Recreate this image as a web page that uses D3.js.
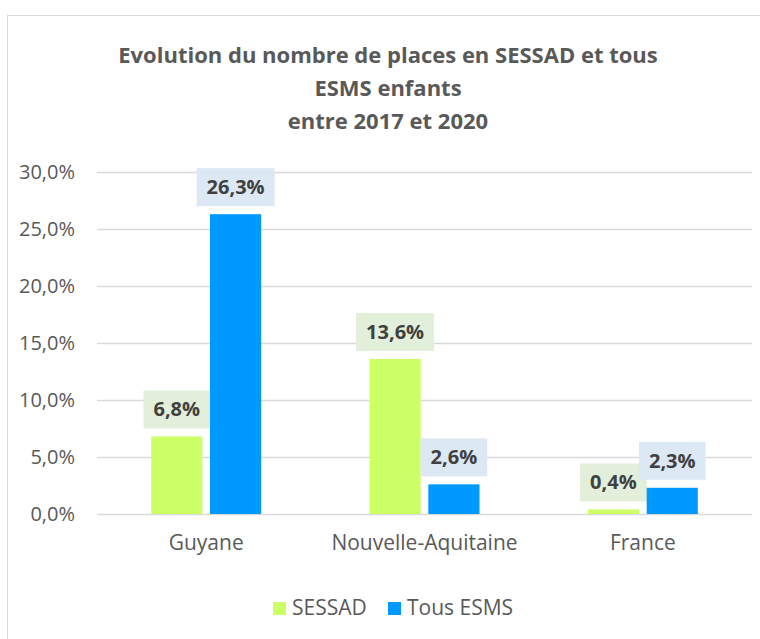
<!DOCTYPE html>
<html>
<head>
<meta charset="utf-8">
<script src="https://cdn.jsdelivr.net/npm/d3@7"></script>
<style>
  body { margin: 0; background: #fff; }
  text { font-family: "Open Sans", sans-serif; }
</style>
</head>
<body>
<script>
const width = 760, height = 639
const margin = {top: 172, right: 8, bottom: 125, left: 97}

const categories = ["Guyane", "Nouvelle-Aquitaine", "France"]
const seriesNames = ["SESSAD", "Tous ESMS"]
const sessad = [6.8, 13.6, 0.4]
const tousEsms = [26.3, 2.6, 2.3]
const yTicks = [0, 5, 10, 15, 20, 25, 30]
const titleLines = ["Evolution du nombre de places en SESSAD et tous", "ESMS enfants", "entre 2017 et 2020"]

const colors = {"SESSAD": "#ccff66", "Tous ESMS": "#0099ff"}
const labelBg = {"SESSAD": "#e2efda", "Tous ESMS": "#dde8f5"}

const data = categories.map((c, i) => ({cat: c, "SESSAD": sessad[i], "Tous ESMS": tousEsms[i]}))

const fmt = v => v.toFixed(1).replace(".", ",") + "%"

const svg = d3.select("body").append("svg")
    .attr("width", width)
    .attr("height", height)

// outer chart border
svg.append("rect")
    .attr("x", 7.5).attr("y", 15.5)
    .attr("width", 760).attr("height", 640)
    .attr("fill", "#fff")
    .attr("stroke", "#d9d9d9")

// title
svg.append("g")
  .selectAll("text")
  .data(titleLines)
  .join("text")
    .attr("x", 388)
    .attr("y", (d, i) => 63 + i * 33)
    .attr("text-anchor", "middle")
    .attr("font-size", 22)
    .attr("font-weight", "bold")
    .attr("fill", "#595959")
    .text(d => d)

const x0 = d3.scaleBand()
    .domain(categories)
    .range([margin.left, width - margin.right])

const x1 = d3.scaleBand()
    .domain(seriesNames)
    .range([x0.bandwidth() / 2 - 55, x0.bandwidth() / 2 + 55])
    .paddingInner(0.13)

const y = d3.scaleLinear()
    .domain([0, 30])
    .range([514, margin.top])

// grid + y axis
svg.append("g")
    .attr("transform", `translate(${margin.left},0)`)
    .call(d3.axisLeft(y).tickValues(yTicks).tickFormat(fmt)
        .tickSize(-(width - margin.right - margin.left)).tickPadding(22))
    .call(g => g.select(".domain").remove())
    .call(g => g.selectAll(".tick line").attr("stroke", "#d9d9d9").attr("stroke-width", 1.5))
    .call(g => g.selectAll(".tick text")
        .attr("font-family", "'Open Sans', sans-serif")
        .attr("font-size", 20).attr("fill", "#595959"))

// x axis labels
svg.append("g")
    .attr("transform", "translate(0,514)")
    .call(d3.axisBottom(x0).tickSize(0).tickPadding(21))
    .call(g => g.select(".domain").remove())
    .call(g => g.selectAll(".tick text")
        .attr("font-family", "'Open Sans', sans-serif")
        .attr("font-size", 21).attr("fill", "#595959"))

const groups = svg.append("g")
  .selectAll("g")
  .data(data)
  .join("g")
    .attr("transform", d => `translate(${x0(d.cat)},0)`)

const items = groups.selectAll("g")
  .data(d => seriesNames.map(key => ({key, value: d[key]})))
  .join("g")

items.append("rect")
    .attr("x", d => x1(d.key))
    .attr("y", d => y(d.value))
    .attr("width", x1.bandwidth())
    .attr("height", d => y(0) - y(d.value))
    .attr("fill", d => colors[d.key])

// data labels with background boxes
items.each(function(d) {
  const g = d3.select(this)
  const cx = x1(d.key) + x1.bandwidth() / 2
  const bottom = y(d.value) - 8
  const t = g.append("text")
      .attr("x", cx)
      .attr("y", bottom - 19)
      .attr("dy", "0.35em")
      .attr("text-anchor", "middle")
      .attr("font-size", 20)
      .attr("font-weight", "bold")
      .attr("fill", "#404040")
      .text(fmt(d.value))
  const w = t.node().getComputedTextLength() + 20
  g.insert("rect", "text")
      .attr("x", cx - w / 2)
      .attr("y", bottom - 38)
      .attr("width", w)
      .attr("height", 38)
      .attr("fill", labelBg[d.key])
})

// legend
const legend = svg.append("g")
  .selectAll("g")
  .data(seriesNames)
  .join("g")
    .attr("transform", (d, i) => `translate(${[273, 388][i]},0)`)

legend.append("rect")
    .attr("y", 602)
    .attr("width", 13)
    .attr("height", 13)
    .attr("fill", d => colors[d])

legend.append("text")
    .attr("x", 19)
    .attr("y", 608)
    .attr("dy", "0.35em")
    .attr("font-size", 21)
    .attr("fill", "#595959")
    .text(d => d)
</script>
</body>
</html>
